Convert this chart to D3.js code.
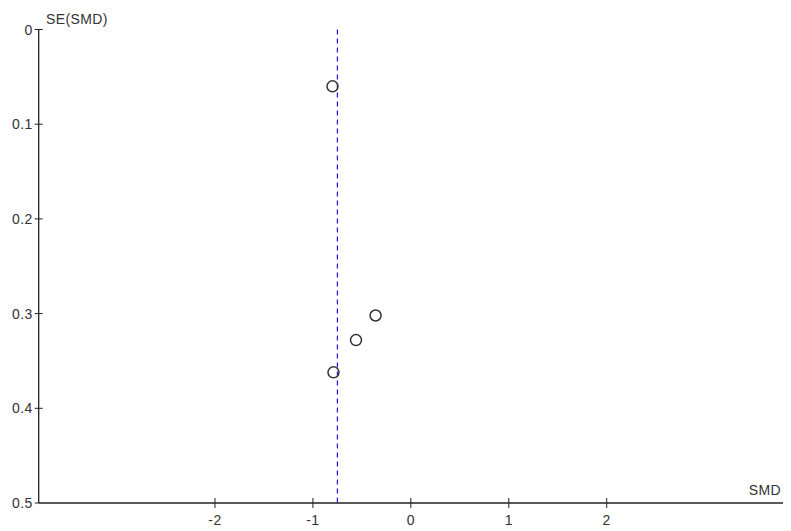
<!DOCTYPE html>
<html>
<head>
<meta charset="utf-8">
<script src="https://cdn.jsdelivr.net/npm/d3@7"></script>
<style>
  body { margin: 0; background: #fff; }
  text { font-family: "Liberation Sans", Arial, sans-serif; font-size: 14px; fill: #333; letter-spacing: 0.4px; }
</style>
</head>
<body>
<script>
// funnel plot: SMD vs SE(SMD)
const smd = [-0.80, -0.36, -0.56, -0.79]
const se = [0.060, 0.302, 0.328, 0.362]
const pooled = -0.75
const xTicks = [-2, -1, 0, 1, 2]
const yTicks = [0, 0.1, 0.2, 0.3, 0.4, 0.5]

const m = { width: 791, height: 531, left: 38.7, right: 783, top: 29.5, bottom: 503 }

const svg = d3.select('body').append('svg')
    .attr('width', m.width)
    .attr('height', m.height)

const x = d3.scaleLinear().domain([-3.8, 3.8]).range([m.left, m.right])
const y = d3.scaleLinear().domain([0, 0.5]).range([m.top, m.bottom])

// x axis line + crossing ticks
svg.append('line')
    .attr('x1', m.left).attr('x2', m.right)
    .attr('y1', m.bottom).attr('y2', m.bottom)
    .attr('stroke', '#222').attr('stroke-width', 1.3)

svg.selectAll('.xt')
    .data(xTicks)
    .enter()
    .append('line')
        .attr('x1', d => x(d)).attr('x2', d => x(d))
        .attr('y1', m.bottom - 5).attr('y2', m.bottom + 5)
        .attr('stroke', '#222')

svg.selectAll('.xl')
    .data(xTicks)
    .enter()
    .append('text')
        .attr('x', d => x(d))
        .attr('y', m.bottom + 22)
        .attr('text-anchor', 'middle')
        .text(d => d)

// y axis line + ticks
svg.append('line')
    .attr('x1', m.left).attr('x2', m.left)
    .attr('y1', m.top).attr('y2', m.bottom)
    .attr('stroke', '#222').attr('stroke-width', 1.3)

svg.selectAll('.yt')
    .data(yTicks.slice(0, -1))
    .enter()
    .append('line')
        .attr('x1', m.left - 4).attr('x2', m.left + 4)
        .attr('y1', d => y(d)).attr('y2', d => y(d))
        .attr('stroke', '#222')

svg.append('line')
    .attr('x1', m.left - 4).attr('x2', m.left)
    .attr('y1', m.bottom).attr('y2', m.bottom)
    .attr('stroke', '#222')

svg.selectAll('.yl')
    .data(yTicks)
    .enter()
    .append('text')
        .attr('x', m.left - 6)
        .attr('y', d => y(d) + 5)
        .attr('text-anchor', 'end')
        .text(d => d)

svg.append('text')
    .attr('x', 46).attr('y', 24)
    .text('SE(SMD)')

svg.append('text')
    .attr('x', 781).attr('y', 495)
    .attr('text-anchor', 'end')
    .text('SMD')

// pooled estimate
svg.append('line')
    .attr('x1', x(pooled)).attr('x2', x(pooled))
    .attr('y1', m.top).attr('y2', m.bottom)
    .attr('stroke', '#1a1ad0')
    .attr('stroke-width', 1.2)
    .attr('stroke-dasharray', '5,4')

svg.selectAll('circle')
    .data(smd)
    .enter()
    .append('circle')
        .attr('cx', d => x(d))
        .attr('cy', (d, i) => y(se[i]))
        .attr('r', 5.5)
        .attr('fill', 'none')
        .attr('stroke', '#333')
        .attr('stroke-width', 1.5)
</script>
</body>
</html>
